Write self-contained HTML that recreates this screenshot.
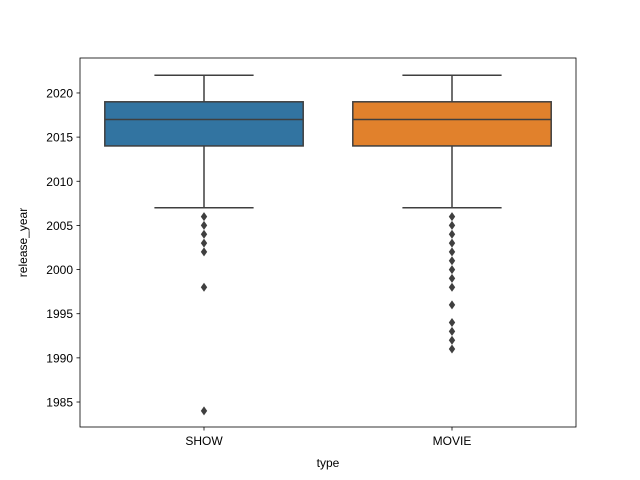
<!DOCTYPE html>
<html><head><meta charset="utf-8"><style>body{margin:0;background:#fff}svg{display:block}</style></head>
<body>
<svg id="chart" width="640" height="480" xmlns="http://www.w3.org/2000/svg" font-family="Liberation Sans, DejaVu Sans, sans-serif"></svg>
<script>
const categories = ["SHOW", "MOVIE"];
const colors = ["#3274a1", "#e1812c"];
const q1 = [2014, 2014];
const median = [2017, 2017];
const q3 = [2019, 2019];
const whiskerLow = [2007, 2007];
const whiskerHigh = [2022, 2022];
const outliersShow = [2006, 2005, 2004, 2003, 2002, 1998, 1984];
const outliersMovie = [2006, 2005, 2004, 2003, 2002, 2001, 2000, 1999, 1998, 1996, 1994, 1993, 1992, 1991];
const yTicks = [1985, 1990, 1995, 2000, 2005, 2010, 2015, 2020];
const outliers = [outliersShow, outliersMovie];

const L = 80, R = 576, T = 58, B = 427;
const yMin = 1982.17, yMax = 2023.96;
const y = v => B - (v - yMin) / (yMax - yMin) * (B - T);
const band = (R - L) / categories.length;
const xc = i => L + band * (i + 0.5);
const NS = "http://www.w3.org/2000/svg";
const svg = document.getElementById("chart");
function el(tag, attrs, parent) {
  const e = document.createElementNS(NS, tag);
  for (const k in attrs) e.setAttribute(k, attrs[k]);
  (parent || svg).appendChild(e);
  return e;
}
const line = "#3f3f3f";
categories.forEach((c, i) => {
  const g = el("g", {});
  
  
  const x = xc(i), hw = band * 0.4;
  el("line", {x1: x, x2: x, y1: y(q3[i]), y2: y(whiskerHigh[i]), stroke: line, "stroke-width": 1.5}, g);
  el("line", {x1: x, x2: x, y1: y(q1[i]), y2: y(whiskerLow[i]), stroke: line, "stroke-width": 1.5}, g);
  el("line", {x1: x - hw/2, x2: x + hw/2, y1: y(whiskerHigh[i]), y2: y(whiskerHigh[i]), stroke: line, "stroke-width": 1.5}, g);
  el("line", {x1: x - hw/2, x2: x + hw/2, y1: y(whiskerLow[i]), y2: y(whiskerLow[i]), stroke: line, "stroke-width": 1.5}, g);
  el("rect", {x: x - hw, y: y(q3[i]), width: 2*hw, height: y(q1[i]) - y(q3[i]), fill: colors[i], stroke: line, "stroke-width": 1.5}, g);
  el("line", {x1: x - hw, x2: x + hw, y1: y(median[i]), y2: y(median[i]), stroke: line, "stroke-width": 1.5}, g);
  outliers[i].forEach(v => {
    const p = el("path", {d: `M${x},${y(v)-4.5} L${x+3.2},${y(v)} L${x},${y(v)+4.5} L${x-3.2},${y(v)} Z`, fill: line}, g);
    
    
  });
  const tk = el("line", {x1: x, x2: x, y1: B, y2: B + 3.5, stroke: "#000", "stroke-width": 0.8});
  const t = el("text", {x: x, y: B + 18, "text-anchor": "middle", "font-size": 12});
  t.textContent = c;
  
  
});
yTicks.forEach(v => {
  el("line", {x1: L - 3.5, x2: L, y1: y(v), y2: y(v), stroke: "#000", "stroke-width": 0.8});
  const t = el("text", {x: L - 7, y: y(v) + 4.5, "text-anchor": "end", "font-size": 12});
  t.textContent = v;
  
  
});
const frame = el("rect", {x: L, y: T, width: R - L, height: B - T, fill: "none", stroke: "#000", "stroke-width": 0.8});


const xt = el("text", {x: (L + R) / 2, y: 467, "text-anchor": "middle", "font-size": 12});
xt.textContent = "type";


const yt = el("text", {x: 27, y: (T + B) / 2, "text-anchor": "middle", "font-size": 12, transform: `rotate(-90 27 ${(T + B) / 2})`});
yt.textContent = "release_year";


</script>
</body></html>
